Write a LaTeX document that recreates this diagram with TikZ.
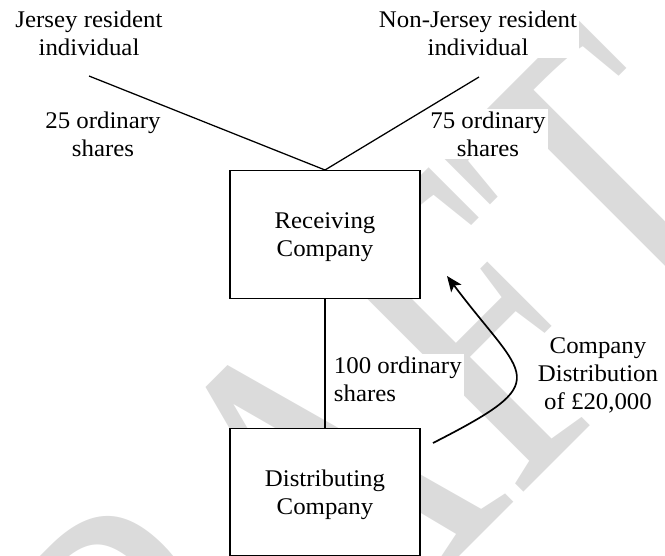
\documentclass[tikz,border=0pt]{standalone}
\usepackage{fontspec}
\setmainfont[FakeStretch=1.04]{Liberation Serif}
\newfontfamily\wmfont[FakeStretch=0.74]{Liberation Serif}
\usetikzlibrary{arrows.meta}
\newcommand\lblfont{\fontsize{17}{19.9}\selectfont}
\tikzset{
  compbox/.style={draw,fill=white,line width=1pt,minimum width=4.75cm,minimum height=3.19cm,align=center,inner sep=0pt,text depth=0pt},
  lbl/.style={align=center,inner sep=1.5pt,fill=white},
  link/.style={line width=0.9pt},
  flow/.style={line width=1.2pt,-{Stealth[length=11pt,width=9pt,inset=2.5pt]}}
}
\begin{document}
\begin{tikzpicture}[every node/.style={font=\lblfont}]
  \clip (0,0) rectangle (16.625,13.875);
  % watermark
  \node[font=\wmfont\fontsize{322}{322}\selectfont,text=black!14,rotate=45,anchor=base west,inner sep=0pt] (wm) at (0.375,-11.15) {DRAFT};

  % shareholders
  \node[lbl] (jsylbl) at (2.225,13.05) {Jersey resident\\individual};
  \node[lbl] (nonlbl) at (11.95,13.05) {Non-Jersey resident\\individual};
  \coordinate (jsy) at (2.225,11.975);
  \coordinate (non) at (11.975,11.95);
  \node[lbl] (lbl25) at (2.575,10.525) {25 ordinary\\shares};
  \node[lbl] (lbl75) at (12.2,10.525) {75 ordinary\\shares};

  % companies
  \node[compbox] (recv) at (8.125,8.0125) {Receiving\\Company};
  \node[compbox] (dist) at (8.125,1.5725) {Distributing\\Company};
  \node[lbl,align=left,anchor=west] (lbl100) at (8.29,4.4) {100 ordinary\\shares};
  \node[lbl] (lbldist) at (14.95,4.485) {Company\\Distribution\\of £20,000};

  \draw[link] (jsy) -- (recv.north);
  \draw[link] (non) -- (recv.north);
  \draw[link] (recv.south) -- (dist.north);

  % distribution flow
  \coordinate (payout) at (10.825,2.8);
  \coordinate (payin) at (11.175,6.975);
  \draw[flow] (payout) .. controls (13.9425,4.39) and (13.125,4.375) .. (payin);
\end{tikzpicture}
\end{document}
